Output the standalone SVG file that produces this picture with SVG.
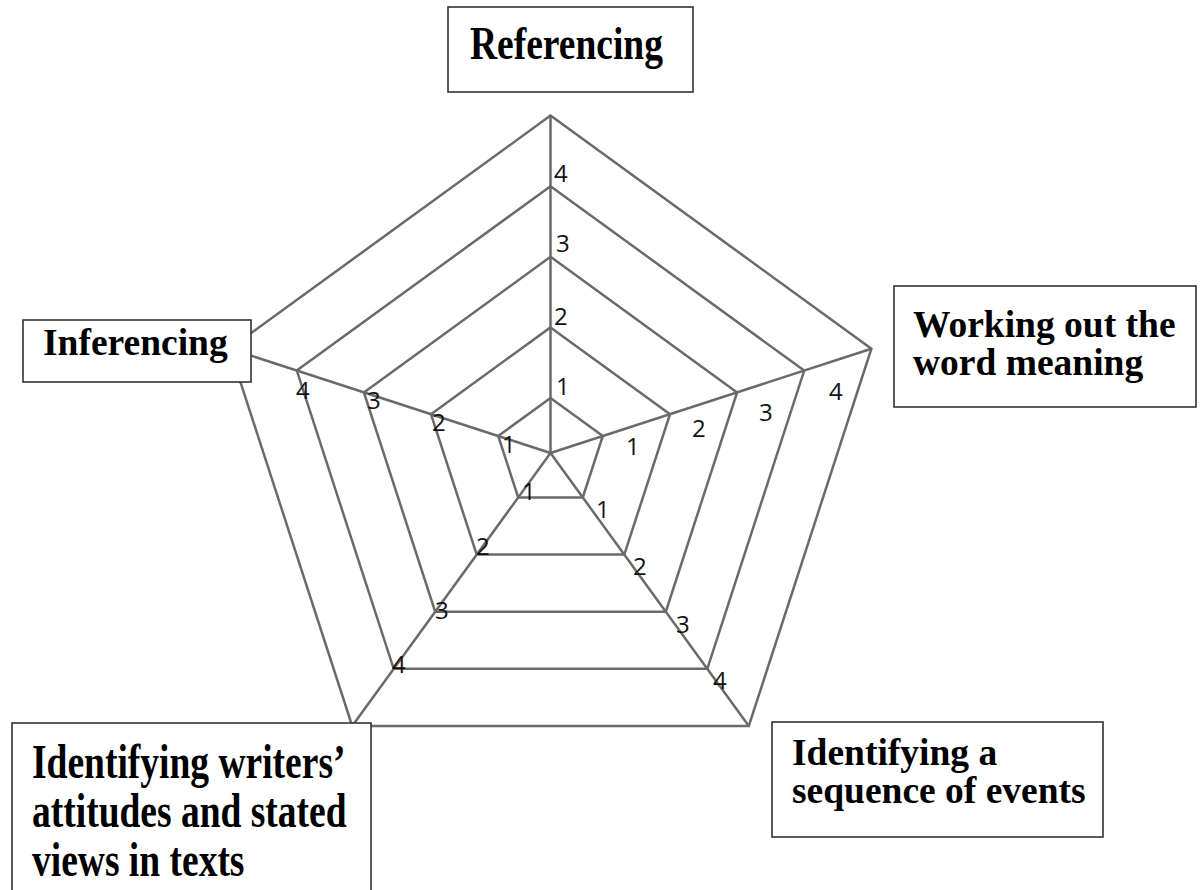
<svg xmlns="http://www.w3.org/2000/svg" width="1200" height="890" viewBox="0 0 1200 890">
<style>
.ring{fill:none;stroke:#6a6a6a;stroke-width:2.5;stroke-linejoin:miter}
.axis{stroke:#6a6a6a;stroke-width:2.5}
.num{font-family:"Open Sans","Liberation Sans",sans-serif;font-size:24px;fill:#111}
.box{fill:#fff;stroke:#333;stroke-width:1.6}
.lbl{font-family:"Liberation Serif","Times New Roman",serif;font-weight:bold;font-size:37.5px;fill:#000}
</style>
<rect width="1200" height="890" fill="#fff"/>
<g id="chart">
<polygon class="ring" points="550.5,398 602.8,436 582.8,497.5 518.2,497.5 498.2,436"/>
<polygon class="ring" points="550.5,327.4 670,414.2 624.3,554.6 476.7,554.6 431,414.2"/>
<polygon class="ring" points="550.5,256.8 737.1,392.4 665.8,611.7 435.2,611.7 363.9,392.4"/>
<polygon class="ring" points="550.5,186.2 804.2,370.6 707.3,668.8 393.7,668.8 296.8,370.6"/>
<polygon class="ring" points="550.5,115.6 871.4,348.7 748.8,726 352.2,726 229.6,348.7"/>
</g>
<g id="connectors">
<line class="axis" x1="550.5" y1="453" x2="550.5" y2="115.6"/>
<line class="axis" x1="550.5" y1="453" x2="871.4" y2="348.7"/>
<line class="axis" x1="550.5" y1="453" x2="748.8" y2="726"/>
<line class="axis" x1="550.5" y1="453" x2="352.2" y2="726"/>
<line class="axis" x1="550.5" y1="453" x2="229.6" y2="348.7"/>
</g>
<g id="scale-labels">
<text class="num" x="554" y="182">4</text>
<text class="num" x="556" y="252">3</text>
<text class="num" x="554" y="325">2</text>
<text class="num" x="556" y="395">1</text>
<text class="num" x="626" y="455">1</text>
<text class="num" x="692" y="437">2</text>
<text class="num" x="759" y="421">3</text>
<text class="num" x="829" y="400">4</text>
<text class="num" x="596" y="518">1</text>
<text class="num" x="633" y="575">2</text>
<text class="num" x="676" y="633">3</text>
<text class="num" x="713" y="689">4</text>
<text class="num" x="522" y="500">1</text>
<text class="num" x="476" y="555">2</text>
<text class="num" x="435" y="619">3</text>
<text class="num" x="392" y="673">4</text>
<text class="num" x="502" y="453">1</text>
<text class="num" x="432" y="431">2</text>
<text class="num" x="367" y="409">3</text>
<text class="num" x="296" y="399">4</text>
</g>
<g id="node-referencing">
<rect class="box" x="448" y="7" width="245" height="85"/>
<text class="lbl" transform="translate(470,59) scale(1,1.25)">Referencing</text>
</g>
<g id="node-working">
<rect class="box" x="894" y="286" width="302" height="121"/>
<text class="lbl" x="913" y="337">Working out the</text>
<text class="lbl" x="913" y="375">word meaning</text>
</g>
<g id="node-inferencing">
<rect class="box" x="23" y="320" width="228" height="62"/>
<text class="lbl" x="43" y="355">Inferencing</text>
</g>
<g id="node-sequence">
<rect class="box" x="772" y="722" width="331" height="115"/>
<text class="lbl" x="792" y="765">Identifying a</text>
<text class="lbl" x="792" y="803">sequence of events</text>
</g>
<g id="node-attitudes">
<rect class="box" x="12" y="723" width="359" height="180"/>
<text class="lbl" transform="translate(32,778) scale(1,1.27)" font-size="38.5">Identifying writers’</text>
<text class="lbl" transform="translate(32,827) scale(1,1.27)" font-size="38.5">attitudes and stated</text>
<text class="lbl" transform="translate(32,876) scale(1,1.27)" font-size="38.5">views in texts</text>
</g>
</svg>
